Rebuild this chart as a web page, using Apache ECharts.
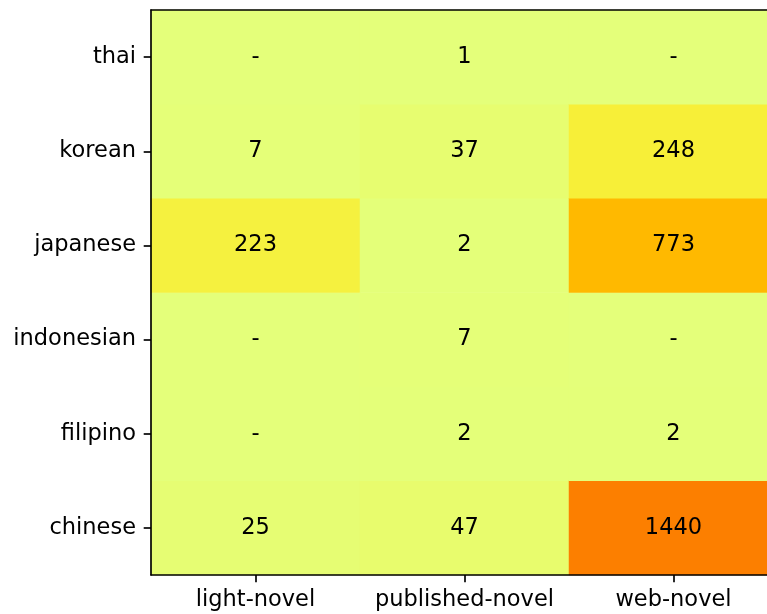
<!DOCTYPE html>
<html>
<head>
    <meta charset="utf-8">
    <title>ECharts</title>
    <script type="text/javascript" src="https://cdn.jsdelivr.net/npm/echarts@6/dist/echarts.min.js"></script>
    <style>
        html, body { margin: 0; padding: 0; background: #fff; overflow: hidden; }
    </style>
</head>
<body>
<!-- the plot runs past the right edge of the picture, so the chart is wider than the window -->
<div id="main" style="width: 778px;height:614px;"></div>
<script type="text/javascript">
    // categories
    var novelTypes = ['light-novel', 'published-novel', 'web-novel'];
    var languages = ['chinese', 'filipino', 'indonesian', 'japanese', 'korean', 'thai'];
    // counts per novel type, in the order of languages (null = no entry, shown as "-")
    var lightNovel = [25, null, null, 223, 7, null];
    var publishedNovel = [47, 2, 7, 2, 37, 1];
    var webNovel = [1440, 2, null, 773, 248, null];

    var columns = [lightNovel, publishedNovel, webNovel];
    var cells = [];
    for (let x = 0; x < columns.length; x++) {
        for (let y = 0; y < languages.length; y++) {
            var v = columns[x][y];
            cells.push({value: [x, y, v == null ? 0 : v], missing: v == null});
        }
    }

    var font = 'DejaVu Sans';
    var fs = 22.5;
    var spine = {show: true, lineStyle: {color: '#000', width: 1.67}};
    var tick = {show: true, alignWithLabel: true, length: 7.3, lineStyle: {color: '#000', width: 1.67}};

    var myChart = echarts.init(document.getElementById('main'));
    var option = {
        animation: false,
        grid: {left: 151, top: 10, right: 0, bottom: 39},
        xAxis: [{
            type: 'category',
            data: novelTypes,
            position: 'bottom',
            z: 10,
            axisLine: spine,
            axisTick: tick,
            splitLine: {show: false},
            axisLabel: {interval: 0, color: '#000', fontFamily: font, fontSize: fs, margin: 14}
        }, {
            type: 'category',
            data: novelTypes,
            position: 'top',
            z: 10,
            axisLine: spine,
            axisTick: {show: false},
            axisLabel: {show: false}
        }],
        yAxis: {
            type: 'category',
            data: languages,
            z: 10,
            axisLine: spine,
            axisTick: tick,
            splitLine: {show: false},
            axisLabel: {interval: 0, color: '#000', fontFamily: font, fontSize: fs, margin: 15}
        },
        visualMap: {
            show: false,
            min: 0,
            max: 1440,
            dimension: 2,
            inRange: {color: ['#e4ff7a', '#ffe81a', '#ffbd00', '#ffa000', '#fc7f00']}
        },
        series: [{
            type: 'heatmap',
            data: cells,
            itemStyle: {borderWidth: 0},
            emphasis: {disabled: true},
            label: {
                show: true,
                color: '#000',
                fontFamily: font,
                fontSize: fs,
                formatter: function (p) {
                    return p.data.missing ? '-' : String(p.value[2]);
                }
            }
        }]
    };
    myChart.setOption(option);
</script>
</body>
</html>
